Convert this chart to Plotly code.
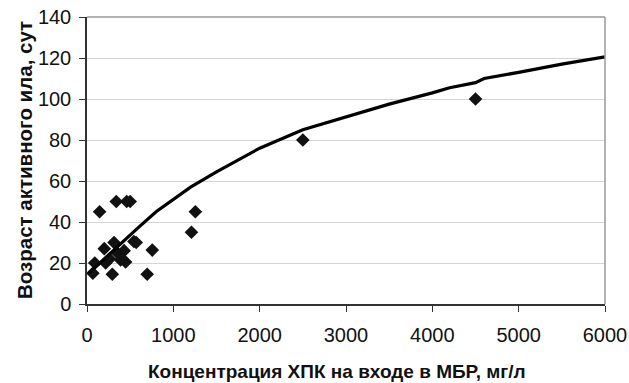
import plotly.graph_objects as go

# Observed data (scatter)
obs_x = [68, 90, 146, 200, 216, 260, 293, 313, 339, 350, 389, 430, 447, 460, 500, 543, 570, 697, 756, 1210, 1255, 2500, 4500]
obs_y = [15, 20, 45, 27, 20, 22, 14.5, 30, 50, 25, 21.5, 26, 20.5, 50, 50, 30.5, 30, 14.5, 26.3, 35, 45, 80, 100]

# Model curve
line_x = [20, 200, 400, 600, 800, 1000, 1200, 1500, 2000, 2500, 3000, 3500, 4000, 4200, 4500, 4600, 5000, 5500, 6000]
line_y = [15, 22, 30, 37.5, 45, 51, 57, 64.5, 76, 85, 91.3, 97.5, 103, 105.5, 108, 110, 113, 117, 120.6]

x_ticks = [0, 1000, 2000, 3000, 4000, 5000, 6000]
y_ticks = [0, 20, 40, 60, 80, 100, 120, 140]

x_title = "Концентрация ХПК на входе в МБР, мг/л"
y_title = "Возраст активного ила, сут"

FONT = "Arial, 'Liberation Sans', sans-serif"

# plot area in page px: x 87..605, y 17..304 (page body margin removed below)
PL, PR, PT, PB = 87, 605, 17, 304
W, H = 629, 383
PW, PH = PR - PL, PB - PT

fig = go.Figure()
fig.add_trace(go.Scatter(x=obs_x, y=obs_y, mode="markers",
                         marker=dict(symbol="diamond", size=10.5, color="#111111",
                                     line=dict(width=0)),
                         showlegend=False, hoverinfo="skip"))
fig.add_trace(go.Scatter(x=line_x, y=line_y, mode="lines",
                         line=dict(color="#000000", width=3.2),
                         showlegend=False, hoverinfo="skip"))

fig.update_layout(
    width=W, height=H,
    margin=dict(l=PL, r=W - PR, t=PT, b=H - PB, autoexpand=False),
    paper_bgcolor="white", plot_bgcolor="white",
    font=dict(family=FONT, size=20, color="#111111"),
    xaxis=dict(range=[0, 6000], tickvals=x_ticks, ticktext=[str(v) for v in x_ticks],
               showgrid=False, zeroline=False, showline=True, linecolor="#333333", linewidth=1.5,
               ticks="outside", ticklen=6, tickcolor="#333333", tickwidth=1,
               ticklabelstandoff=6, automargin=False, ticklabeloverflow="allow"),
    yaxis=dict(range=[0, 140], tickvals=y_ticks, ticktext=[str(v) for v in y_ticks],
               showgrid=True, gridcolor="#d4d4d4", gridwidth=1.3, zeroline=False,
               showline=True, linecolor="#333333", linewidth=1.5,
               ticks="outside", ticklen=6, tickcolor="#333333", tickwidth=1,
               ticklabelstandoff=4, automargin=False, ticklabeloverflow="allow"),
    shapes=[
        dict(type="line", xref="paper", yref="paper", x0=0, x1=1, y0=1, y1=1,
             line=dict(color="#999999", width=1.5)),
        dict(type="line", xref="paper", yref="paper", x0=1, x1=1, y0=0, y1=1,
             line=dict(color="#999999", width=1.5)),
    ],
    annotations=[
        dict(text="<b>" + x_title + "</b>", xref="paper", yref="paper",
             x=(337 - PL) / PW, y=-(371 - PB) / PH, xanchor="center", yanchor="middle",
             showarrow=False, font=dict(family=FONT, size=19, color="#111111")),
        dict(text="<b>" + y_title + "</b>", xref="paper", yref="paper",
             x=-(PL - 24) / PW, y=(PB - 160) / PH, xanchor="center", yanchor="middle",
             textangle=-90, showarrow=False, font=dict(family=FONT, size=20.5, color="#111111")),
    ],
)

fig.write_html("out.html",
               config={"displayModeBar": False},
               post_script="document.body.style.margin='0';document.body.style.overflow='hidden';")
